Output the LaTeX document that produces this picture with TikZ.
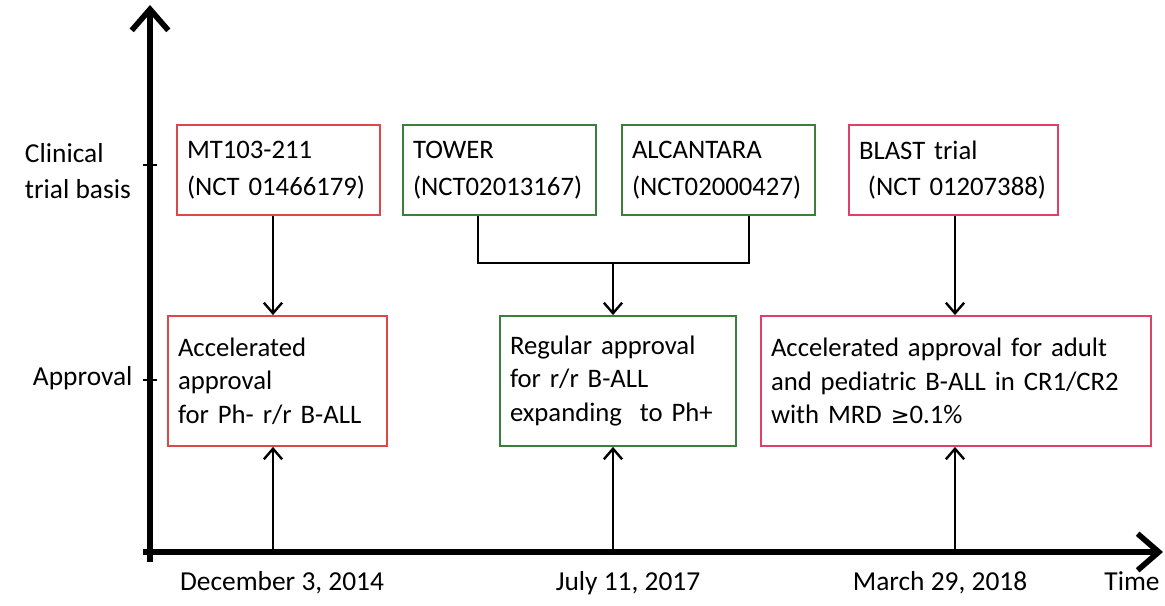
\documentclass[tikz,border=0pt]{standalone}
\usepackage{fontspec}
\setmainfont{Carlito}
\usetikzlibrary{arrows.meta, positioning, calc}
\definecolor{boxred}{RGB}{220,72,72}
\definecolor{boxgreen}{RGB}{58,128,58}
\definecolor{boxpink}{RGB}{222,64,104}
\tikzset{
  box/.style={rectangle, draw, line width=1.3pt, fill=white, align=left,
              inner xsep=0.25cm, inner ysep=0pt,
              font=\fontsize{19}{26}\selectfont},
  redbox/.style={box, draw=boxred},
  greenbox/.style={box, draw=boxgreen},
  pinkbox/.style={box, draw=boxpink},
  tight/.style={font=\fontsize{19}{23.8}\selectfont},
  arrow/.style={-{Straight Barb[length=7.5pt, width=13pt, line width=1.7pt]}, line width=1.8pt},
  axis/.style={-{Straight Barb[length=15pt, width=26pt, line width=4pt]}, line width=4.5pt},
  label/.style={font=\fontsize{19.5}{26}\selectfont, align=left},
}
\begin{document}
\begin{tikzpicture}
  \useasboundingbox (0,0) rectangle (29.125,15.125);

  % Axes
  \coordinate (origin) at (3.75,1.325);
  \coordinate (ytop) at (3.75,15.0);
  \coordinate (xend) at (29.075,1.325);
  \draw[axis] (3.75,1.075) -- (ytop);
  \draw[axis] (3.575,1.325) -- (xend);

  % Ticks on the vertical axis
  \coordinate (ttrial) at (3.75,11.0);
  \coordinate (tappr) at (3.75,5.625);
  \draw[line width=1.6pt] ([xshift=-0.18cm]ttrial) -- ([xshift=0.18cm]ttrial);
  \draw[line width=1.6pt] ([xshift=-0.18cm]tappr) -- ([xshift=0.18cm]tappr);

  % Axis labels
  \node[label, anchor=west] (trial) at (0.5,10.85) {Clinical\\trial basis};
  \node[label, anchor=west] (appr) at (0.7,5.68) {Approval};
  \node[label] (time) at (28.3,0.6) {Time};

  % Dates on the time axis
  \coordinate (d1) at (6.825,1.325);
  \coordinate (d2) at (15.325,1.325);
  \coordinate (d3) at (23.875,1.325);
  \node[label] (date1) at (7.05,0.55) {December 3, 2014};
  \node[label] (date2) at (15.7,0.55) {July 11, 2017};
  \node[label] (date3) at (23.5,0.55) {March 29, 2018};

  % Trial boxes
  \node[redbox, minimum width=5.075cm, minimum height=2.25cm, text width=4.575cm]
    (mt) at (6.9625,10.875) {MT103-211\\(NCT 01466179)};
  \node[greenbox, minimum width=4.825cm, minimum height=2.25cm, text width=4.325cm]
    (tower) at (12.4875,10.875) {TOWER\\(NCT02013167)};
  \node[greenbox, minimum width=4.825cm, minimum height=2.25cm, text width=4.325cm]
    (alcantara) at (17.9625,10.875) {ALCANTARA\\(NCT02000427)};
  \node[pinkbox, minimum width=5.225cm, minimum height=2.25cm, text width=4.725cm]
    (blast) at (23.8375,10.875) {BLAST trial\\\ (NCT 01207388)};

  % Approval boxes
  \node[redbox, tight, minimum width=5.475cm, minimum height=3.25cm, text width=4.975cm]
    (acc1) at (6.9375,5.6) {Accelerated\\approval\\for Ph- r/r B-ALL};
  \node[greenbox, tight, minimum width=5.9cm, minimum height=3.25cm, text width=5.4cm]
    (regular) at (15.45,5.6) {Regular approval\\for r/r B-ALL\\expanding\ \ to Ph+};
  \node[pinkbox, tight, minimum width=9.75cm, minimum height=3.25cm, text width=9.25cm]
    (acc3) at (23.9,5.6) {Accelerated approval for adult\\and pediatric B-ALL in CR1/CR2\\with MRD {\fontspec{DejaVu Sans}\fontsize{16}{23.8}\selectfont ≥}0.1\%};

  % Join of TOWER and ALCANTARA
  \coordinate (join) at (15.325,8.55);
  \draw[line width=1.5pt] ([xshift=-0.5375cm]tower.south) |- (join)
    -| ([xshift=0.7625cm]alcantara.south);

  % Arrows from trials to approvals
  \draw[arrow] (mt.south -| d1) -- (acc1.north -| d1);
  \draw[arrow] (join) -- (regular.north -| d2);
  \draw[arrow] (blast.south -| d3) -- (acc3.north -| d3);

  % Arrows from dates to approvals
  \draw[arrow] (d1) -- (acc1.south -| d1);
  \draw[arrow] (d2) -- (regular.south -| d2);
  \draw[arrow] (d3) -- (acc3.south -| d3);
\end{tikzpicture}
\end{document}
